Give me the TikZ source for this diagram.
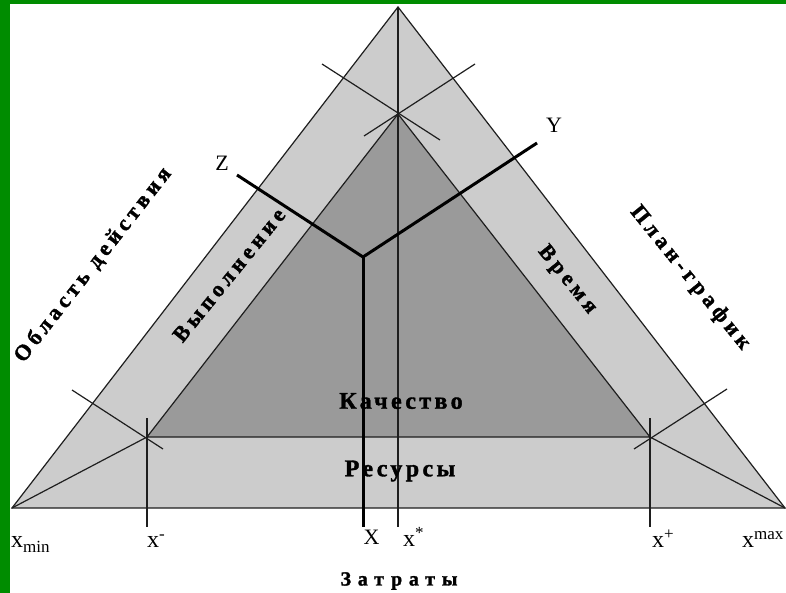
\documentclass[tikz,border=0pt]{standalone}
\usepackage{fontspec}
\setmainfont{Liberation Serif}
\definecolor{frameGreen}{RGB}{0,140,0}
\definecolor{lightBand}{RGB}{204,204,204}
\definecolor{darkCore}{RGB}{154,154,154}
\definecolor{edgeCol}{RGB}{30,30,30}
\newcommand{\lowsub}[1]{\raisebox{-5pt}{\fontsize{17}{17}\selectfont #1}}
\newcommand{\highsup}[1]{\raisebox{8pt}{\fontsize{17}{17}\selectfont #1}}
\tikzset{
  thinline/.style={draw=edgeCol, line width=1.2pt},
  axisline/.style={draw=black, line width=3pt},
  ruslabel/.style={inner sep=0pt, font=\bfseries\fontsize{24}{24}\selectfont\addfontfeature{LetterSpace=14,FakeBold=1.5}},
  rotlabel/.style={inner sep=0pt, font=\bfseries\fontsize{22}{22}\selectfont\addfontfeature{LetterSpace=20,FakeBold=1.5}},
  smallrus/.style={inner sep=0pt, font=\bfseries\fontsize{20}{20}\selectfont\addfontfeature{LetterSpace=34,FakeBold=1.5}},
  varlabel/.style={inner sep=0pt, font=\fontsize{22}{22}\selectfont},
  xlabel/.style={inner sep=0pt, font=\fontsize{24}{24}\selectfont},
}
\begin{document}
\begin{tikzpicture}[x=1pt,y=-1pt]
\useasboundingbox (0,0) rectangle (786,593);
\fill[white] (0,0) rectangle (786,593);
\fill[frameGreen] (0,0) rectangle (10,593);
\fill[frameGreen] (0,0) rectangle (786,4);
% vertices
\coordinate (A) at (398,7);
\coordinate (L) at (12,508);
\coordinate (R) at (785,508);
\coordinate (a) at (398,114);
\coordinate (l) at (147,437);
\coordinate (r) at (650,437);
\coordinate (C) at (363,257);
\coordinate (Zend) at (237,175);
\coordinate (Yend) at (537,143);
\coordinate (Xend) at (363,527);
\coordinate (Sbot) at (398,527);
\coordinate (lt) at (147,418);
\coordinate (lb) at (147,527);
\coordinate (rt) at (650,418);
\coordinate (rb) at (650,527);
\coordinate (c1) at (322,64);
\coordinate (c2) at (440,140);
\coordinate (c3) at (475,64);
\coordinate (c4) at (364,136);
\coordinate (c5) at (72,390);
\coordinate (c6) at (163,449);
\coordinate (c7) at (634,449);
\coordinate (c8) at (727,389);
% fills
\fill[lightBand] (L) -- (R) -- (A) -- cycle;
\fill[darkCore] (l) -- (r) -- (a) -- cycle;
% outlines
\draw[thinline] (L) -- (R) -- (A) -- cycle;
\draw[thinline] (l) -- (r) -- (a) -- cycle;
\draw[thinline] (L) -- (l);
\draw[thinline] (R) -- (r);
\draw[thinline] (A) -- (Sbot);
\draw[thinline] (lt) -- (lb);
\draw[thinline] (rt) -- (rb);
\draw[thinline] (c1) -- (c2);
\draw[thinline] (c3) -- (c4);
\draw[thinline] (c5) -- (c6);
\draw[thinline] (c7) -- (c8);
% axes
\draw[axisline] (C) -- (Zend);
\draw[axisline] (C) -- (Yend);
\draw[axisline] (C) -- (Xend);
% labels
\node[varlabel] (zl) at (222,163) {Z};
\node[varlabel] (yl) at (554,125) {Y};
\node[varlabel, anchor=base] (xl) at (371.5,544) {X};
\node[xlabel, anchor=base west] (xminl) at (11,547) {x\lowsub{min}};
\node[xlabel, anchor=base west] (xmlabel) at (147,547) {x\highsup{-}};
\node[xlabel, anchor=base west] (xsl) at (403,546) {x\highsup{*}};
\node[xlabel, anchor=base west] (xpl) at (652,547) {x\highsup{+}};
\node[xlabel, anchor=base west] (xmaxl) at (742,547) {x\highsup{max}};
\node[ruslabel] (kach) at (401,401) {Качество};
\node[ruslabel] (res) at (400,471) {Ресурсы};
\node[smallrus] (zat) at (399,581) {Затраты};
\node[rotlabel, rotate=51] (vyp) at (229,275) {Выполнение};
\node[rotlabel, rotate=-51] (vrem) at (567,280) {Время};
\node[rotlabel, rotate=52] (obl) at (93,265) {Область действия};
\node[rotlabel, rotate=-51] (plan) at (690,278) {План-график};
\end{tikzpicture}
\end{document}
